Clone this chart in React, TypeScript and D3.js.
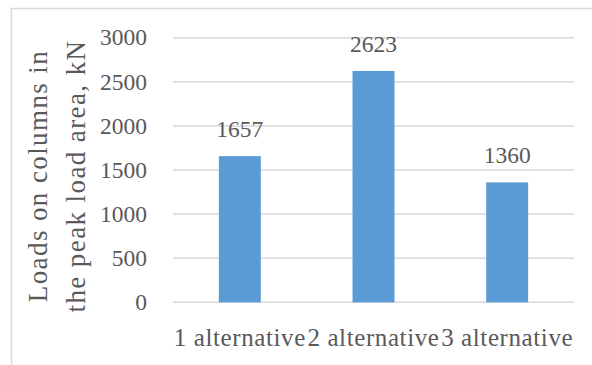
import React from "react";
import * as d3 from "d3";

const categories = ["1 alternative", "2 alternative", "3 alternative"];
const loads = [1657, 2623, 1360];
const yTicks = [0, 500, 1000, 1500, 2000, 2500, 3000];
const titleLines = ["Loads on columns in", "the peak load area, kN"];

const W = 592;
const H = 365;
const FONT = "'Liberation Serif', 'Times New Roman', serif";
const TEXT = "#595959";
const GRID = "#D9D9D9";
const BAR = "#5B9BD5";

export default function App() {
  const plotLeft = 173;
  const plotRight = 574;
  const plotTop = 37.7;
  const plotBottom = 302.3;

  const x = d3
    .scaleBand<string>()
    .domain(categories)
    .range([plotLeft, plotRight])
    .paddingInner(0.686)
    .paddingOuter(0.343);
  const y = d3.scaleLinear().domain([0, 3000]).range([plotBottom, plotTop]);

  const titleCy = 176;

  return (
    <svg
      width={W}
      height={H}
      style={{ position: "absolute", left: 0, top: 0, background: "#fff" }}
      fontFamily={FONT}
    >
      <rect x={11.5} y={8.5} width={W} height={H} fill="#fff" stroke={GRID} strokeWidth={1.5} />
      {yTicks.map((t) => (
        <g key={t}>
          <line x1={plotLeft} x2={plotRight} y1={y(t)} y2={y(t)} stroke={GRID} strokeWidth={1.5} />
          <text
            x={147}
            y={y(t)}
            dy="0.33em"
            textAnchor="end"
            fontSize={23.5}
            fill={TEXT}
          >
            {t}
          </text>
        </g>
      ))}
      {categories.map((c, i) => (
        <g key={c}>
          <rect
            x={x(c)}
            y={y(loads[i])}
            width={x.bandwidth()}
            height={plotBottom - y(loads[i])}
            fill={BAR}
          />
          <text
            x={(x(c) as number) + x.bandwidth() / 2}
            y={y(loads[i]) - 19}
            textAnchor="middle"
            fontSize={23.5}
            fill={TEXT}
          >
            {loads[i]}
          </text>
          <text
            x={(x(c) as number) + x.bandwidth() / 2}
            y={346}
            textAnchor="middle"
            fontSize={25}
            letterSpacing={0.6}
            fill={TEXT}
          >
            {c}
          </text>
        </g>
      ))}
      {titleLines.map((line, i) => (
        <text
          key={line}
          transform={`translate(${47 + i * 38},${titleCy}) rotate(-90)`}
          textAnchor="middle"
          fontSize={27}
          letterSpacing={1.4}
          fill={TEXT}
        >
          {line}
        </text>
      ))}
    </svg>
  );
}
